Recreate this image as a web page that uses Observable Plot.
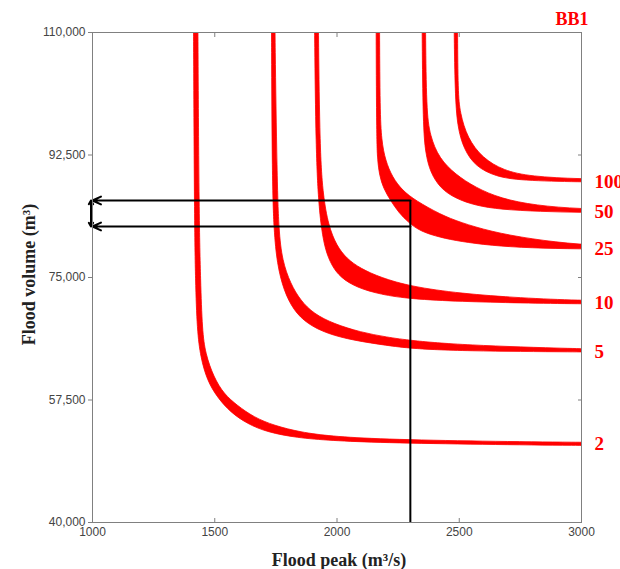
<!DOCTYPE html>
<html>
<head>
<meta charset="utf-8">
<script src="https://cdn.jsdelivr.net/npm/d3@7"></script>
<script src="https://cdn.jsdelivr.net/npm/@observablehq/plot@0.6"></script>
<style>
  html, body { margin: 0; padding: 0; background: #fff; }
  #chart { width: 620px; height: 569px; }
</style>
</head>
<body>
<div id="chart"></div>
<script>
// Axis ticks
const xTicks = [1000, 1500, 2000, 2500, 3000];
const yTicks = [40000, 57500, 75000, 92500, 110000];

// Return periods (years) and label volumes
const periods = ["2", "5", "10", "25", "50", "100"];
const labelVolumes = [51243, 64429, 71329, 79100, 84329, 88714];

// Contour bands: [flood peak, flood volume] along the lower-left (outer) and upper-right (inner) edges
const t2Outer = [[1413,110000],[1417,83143],[1421,74571],[1428,67429],[1442,63615],[1469,60286],[1510,57900],[1564,55757],[1633,54100],[1715,52900],[1837,52100],[1973,51714],[2178,51400],[2600,51150],[3000,51000]];
const t2Inner = [[1431,110000],[1436,83143],[1442,74571],[1449,67429],[1462,64100],[1496,60757],[1537,58386],[1592,56714],[1660,55043],[1742,53857],[1851,52900],[1973,52329],[2178,51900],[2600,51600],[3000,51450]];

const t5Outer = [[1732,110000],[1735,88857],[1742,81714],[1755,76957],[1782,73143],[1823,70286],[1878,68386],[1960,66957],[2069,66000],[2205,65286],[2301,64857],[2505,64500],[3000,64357]];
const t5Inner = [[1746,110000],[1755,88857],[1762,81714],[1776,77429],[1810,74100],[1851,71714],[1905,69814],[1987,68386],[2096,67186],[2205,66471],[2301,66000],[2505,65357],[3000,64786]];

const t10Outer = [[1908,110000],[1914,93143],[1924,86000],[1937,81714],[1953,78857],[1978,76714],[2014,75000],[2080,73571],[2178,72571],[2301,71929],[2505,71571],[2751,71357],[3000,71229]];
const t10Inner = [[1924,110000],[1930,93143],[1943,86714],[1965,82429],[1998,79571],[2039,77714],[2096,76286],[2178,75000],[2301,73714],[2505,72714],[2751,72071],[3000,71714]];

const t25Outer = [[2160,110000],[2162,94571],[2166,91714],[2174,89571],[2190,87714],[2219,86000],[2252,84286],[2292,82857],[2342,81571],[2423,80714],[2505,80143],[2628,79571],[2791,79214],[3000,79071]];
const t25Inner = [[2174,110000],[2176,98857],[2182,94571],[2198,91714],[2227,89286],[2268,87429],[2321,86000],[2423,84000],[2505,82857],[2628,81571],[2791,80500],[3000,79643]];

const t50Outer = [[2348,110000],[2352,96714],[2362,92714],[2382,90000],[2423,87714],[2485,86286],[2566,85286],[2669,84714],[2832,84429],[3000,84286]];
const t50Inner = [[2362,110000],[2366,98857],[2380,95286],[2418,92000],[2485,89714],[2566,87857],[2669,86286],[2812,85286],[3000,84786]];

const t100Outer = [[2479,110000],[2483,101429],[2492,96571],[2519,93286],[2567,90857],[2648,89429],[2751,88857],[3000,88643]];
const t100Inner = [[2493,110000],[2495,101429],[2503,98571],[2533,94929],[2595,92071],[2681,90286],[2791,89429],[3000,89071]];

// Design event: flood peak and the volume range
const designPeak = 2300;
const volumeRange = [82286, 86000];

// ---- build tables for Plot ----
const bands = [
  ["2", t2Outer, t2Inner],
  ["5", t5Outer, t5Inner],
  ["10", t10Outer, t10Inner],
  ["25", t25Outer, t25Inner],
  ["50", t50Outer, t50Inner],
  ["100", t100Outer, t100Inner]
];
// carry each edge straight on past the frame (hidden by clipping) so the smooth curve turns outside the plot
const extend = edge => {
  const first = edge[0], last = edge[edge.length - 1];
  return [[first[0], first[1] + 4000], ...edge, [last[0] + 150, last[1]]];
};
const bandPoints = bands.flatMap(([T, outer, inner]) =>
  extend(outer).concat(extend(inner).reverse()).map(([x, y]) => ({T, x, y}))
);
const labels = periods.map((T, i) => ({T, v: labelVolumes[i]}));
const midVolume = (volumeRange[0] + volumeRange[1]) / 2;

const serif = "'Liberation Serif', 'Times New Roman', serif";
const red = "#ff0000";
const gray = "#808080";

const chart = Plot.plot({
  width: 620,
  height: 569,
  marginTop: 32,
  marginRight: 39,
  marginBottom: 47,
  marginLeft: 92,
  style: {background: "#fff", fontFamily: "'Liberation Sans', Arial, sans-serif", fontSize: "12px", color: "#444"},
  x: {domain: [1000, 3000], label: null},
  y: {domain: [40000, 110000], label: null},
  marks: [
    Plot.line(bandPoints, {x: "x", y: "y", z: "T", fill: red, stroke: red, strokeWidth: 0.8, curve: "basis", clip: true}),
    Plot.ruleX([designPeak], {y1: 40000, y2: volumeRange[1], stroke: "#000", strokeWidth: 2}),
    Plot.arrow(volumeRange, {x1: designPeak, x2: 1000, y1: d => d, y2: d => d, stroke: "#000", strokeWidth: 2, headLength: 7, headAngle: 50}),
    Plot.arrow(volumeRange, {x1: 1000, x2: 1000, y1: midVolume, y2: d => d, dx: -1.5, stroke: "#000", strokeWidth: 2, headLength: 6, headAngle: 60}),
    Plot.frame({stroke: gray}),
    Plot.axisX({anchor: "bottom", ticks: xTicks, tickSize: 0, tickPadding: 5, tickFormat: d3.format("d"), fill: "#444", fontSize: 12, label: null}),
    Plot.axisX({anchor: "bottom", ticks: xTicks, tickSize: -4, tickFormat: () => "", stroke: gray, label: null}),
    Plot.axisX({anchor: "top", ticks: xTicks, tickSize: -4, tickFormat: () => "", stroke: gray, label: null}),
    Plot.axisY({anchor: "left", ticks: yTicks, tickSize: 4, tickPadding: 3, tickFormat: d3.format(","), stroke: gray, fill: "#444", fontSize: 12, label: null}),
    Plot.axisY({anchor: "right", ticks: yTicks, tickSize: -4, tickFormat: () => "", stroke: gray, label: null}),
    Plot.text(["Flood peak (m³/s)"], {text: d => d, frameAnchor: "bottom", dy: 38, dx: 2, textAnchor: "middle", lineAnchor: "middle", fontFamily: serif, fontWeight: "bold", fontSize: 18, fill: "#222"}),
    Plot.text(["Flood volume (m³)"], {text: d => d, frameAnchor: "left", dx: -63, dy: -3, rotate: -90, textAnchor: "middle", lineAnchor: "middle", fontFamily: serif, fontWeight: "bold", fontSize: 18, fill: "#222"}),
    Plot.text(["BB1"], {text: d => d, frameAnchor: "top-right", dx: 7, dy: -13, textAnchor: "end", lineAnchor: "middle", fontFamily: serif, fontWeight: "bold", fontSize: 18, fill: red}),
    Plot.text(labels, {x: 3000, y: "v", text: "T", dx: 13, textAnchor: "start", lineAnchor: "middle", fontFamily: serif, fontWeight: "bold", fontSize: 19, fill: red})
  ]
});
document.getElementById("chart").appendChild(chart);
</script>
</body>
</html>
